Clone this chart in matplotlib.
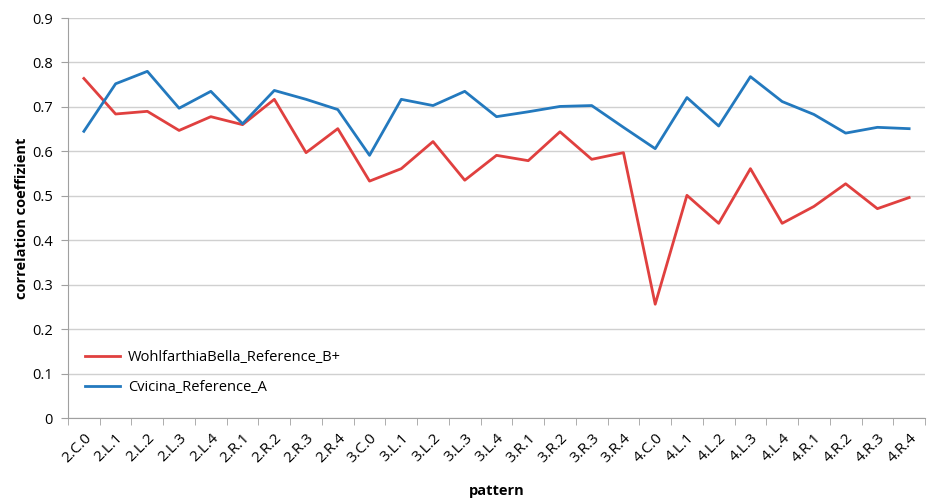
import matplotlib
matplotlib.use("Agg")
import matplotlib.pyplot as plt
import numpy as np

patterns = ["2.C.0", "2.L.1", "2.L.2", "2.L.3", "2.L.4", "2.R.1", "2.R.2", "2.R.3", "2.R.4",
            "3.C.0", "3.L.1", "3.L.2", "3.L.3", "3.L.4", "3.R.1", "3.R.2", "3.R.3", "3.R.4",
            "4.C.0", "4.L.1", "4.L.2", "4.L.3", "4.L.4", "4.R.1", "4.R.2", "4.R.3", "4.R.4"]

wohlfarthia = [0.764, 0.684, 0.690, 0.647, 0.678, 0.660, 0.717, 0.597, 0.651,
               0.533, 0.561, 0.622, 0.535, 0.591, 0.579, 0.644, 0.582, 0.597,
               0.256, 0.501, 0.438, 0.561, 0.438, 0.476, 0.527, 0.471, 0.496]

cvicina = [0.645, 0.752, 0.780, 0.697, 0.735, 0.662, 0.737, 0.717, 0.694,
           0.591, 0.717, 0.703, 0.735, 0.678, 0.689, 0.701, 0.703, 0.654,
           0.606, 0.721, 0.657, 0.768, 0.712, 0.683, 0.641, 0.654, 0.651]

y_ticks = [0, 0.1, 0.2, 0.3, 0.4, 0.5, 0.6, 0.7, 0.8, 0.9]

plt.rcParams['font.family'] = ['Open Sans', 'DejaVu Sans']

fig = plt.figure(figsize=(9.30, 5.01), dpi=100)
ax = fig.add_axes([68/930, 1 - 418/501, (925 - 68)/930, 400/501])

x = np.arange(len(patterns))
ax.plot(x, wohlfarthia, color="#E0403F", lw=2.0, label="WohlfarthiaBella_Reference_B+", zorder=3)
ax.plot(x, cvicina, color="#2379BE", lw=2.0, label="Cvicina_Reference_A", zorder=3)

ax.set_xlim(-0.5, len(patterns) - 0.5)
ax.set_ylim(0, 0.9)
ax.set_yticks(y_ticks)
ax.set_yticklabels([f"{v:g}" for v in y_ticks], fontsize=10.5)
ax.grid(axis="y", color="#D0D0D0", lw=1.0)
ax.set_axisbelow(True)

ax.set_xticks(x)
ax.set_xticklabels(patterns, rotation=45, ha="right", rotation_mode="anchor", fontsize=11)
ax.set_xticks(np.arange(-0.5, len(patterns), 1.0), minor=True)
ax.tick_params(axis="x", which="major", length=0, pad=9)
ax.tick_params(axis="x", which="minor", length=5, color="#A0A0A0", direction="out")
ax.tick_params(axis="y", length=5, color="#A0A0A0", direction="out", pad=6)

for side in ("top", "right"):
    ax.spines[side].set_visible(False)
for side in ("left", "bottom"):
    ax.spines[side].set_color("#A0A0A0")

ax.set_ylabel("correlation coeffizient", fontsize=10.5, fontweight="bold", labelpad=2)
ax.set_xlabel("pattern", fontsize=10.5, fontweight="bold", labelpad=13)

ax.legend(loc="lower left", bbox_to_anchor=(0.005, 0.025), frameon=False, fontsize=10.5,
          handlelength=2.4, handletextpad=0.5, labelspacing=1.0)

fig.savefig("out.png", dpi=100)
